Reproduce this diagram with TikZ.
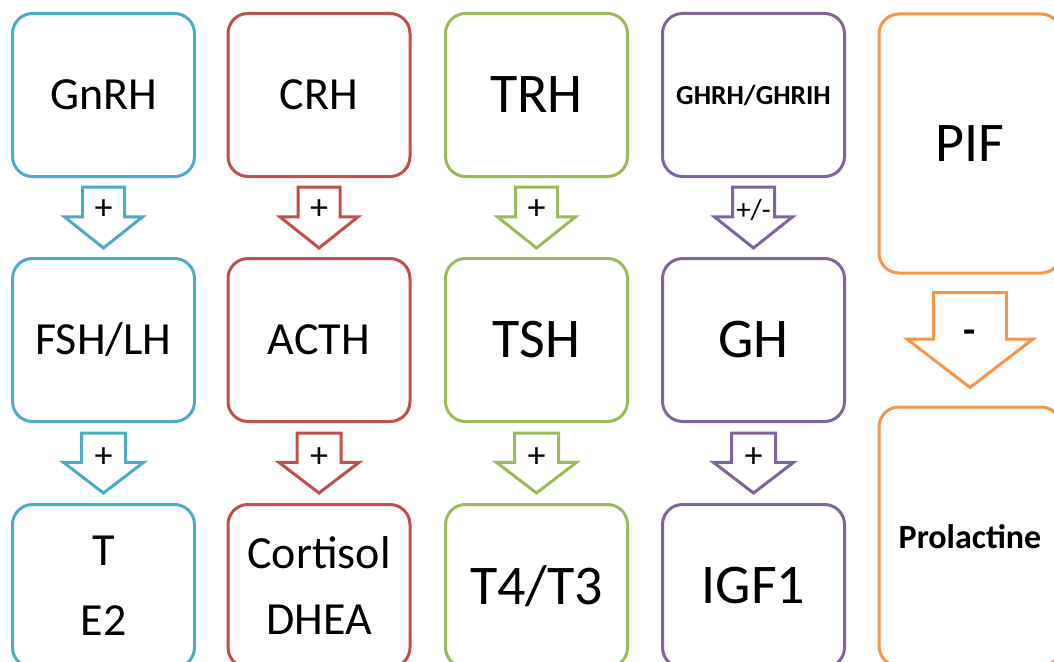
\documentclass[tikz,border=0pt]{standalone}
\usepackage{fontspec}
\setmainfont{Carlito}
\usetikzlibrary{calc}

\definecolor{hblue}{HTML}{4BACC6}
\definecolor{hred}{HTML}{C0504D}
\definecolor{hgreen}{HTML}{9BBB59}
\definecolor{hpurple}{HTML}{8064A2}
\definecolor{horange}{HTML}{F79646}

\tikzset{
  hbox/.style={draw=#1, line width=3pt, rounded corners=20pt, fill=white,
               minimum width=182pt, minimum height=163pt, inner sep=0pt, align=center},
  tallbox/.style={minimum height=259pt},
  medtext/.style={font=\fontsize{46}{70}\selectfont},
  bigtext/.style={font=\fontsize{56}{66}\selectfont},
  arrowline/.style={line width=3pt, fill=white, line join=miter},
  sign/.style={font=\fontsize{36}{40}\selectfont, inner sep=0pt},
}

% block arrow from node #1 to node #2: colour #3, label node #4 with text #5,
% shaft half width #6, head half width #7, gap to the boxes #8, label options #9
\newcommand\hormarrow[9]{%
  \draw[arrowline,draw=#3] let \p1=([yshift=-#8pt]#1.south), \p2=([yshift=#8pt]#2.north),
      \p3=($(\p1)!0.49!(\p2)$), \p4=($(\p1)!0.37!(\p2)$) in
    (\x1-#6pt,\y1) -- (\x1+#6pt,\y1) -- (\x1+#6pt,\y3) -- (\x1+#7pt,\y3) -- (\x2,\y2)
    -- (\x1-#7pt,\y3) -- (\x1-#6pt,\y3) -- cycle
    node[sign,#9] (#4) at (\p4) {#5};
}

\begin{document}
\begin{tikzpicture}[x=1pt,y=-1pt]
\useasboundingbox (0,0) rectangle (1054,661);
\clip (0,0) rectangle (1054,661);

% gonadotropic axis
\node[hbox=hblue, medtext] (gnrh) at (103.5,95) {GnRH};
\node[hbox=hblue, medtext] (fsh)  at (103.5,340) {FSH/LH};
\node[hbox=hblue, medtext] (te2)  at (103.5,586) {T\\E2};

% corticotropic axis
\node[hbox=hred, medtext] (crh)  at (319,95) {CRH};
\node[hbox=hred, medtext] (acth) at (319,340) {ACTH};
\node[hbox=hred, medtext] (cort) at (319,586) {Cortisol\\[-4pt]DHEA};

% thyrotropic axis
\node[hbox=hgreen, bigtext] (trh) at (536.5,95) {TRH};
\node[hbox=hgreen, bigtext] (tsh) at (536.5,340) {TSH};
\node[hbox=hgreen, bigtext] (t4)  at (536.5,586) {T4/T3};

% somatotropic axis
\node[hbox=hpurple, font=\fontsize{27.5}{30}\selectfont\bfseries] (ghrh) at (753.5,95) {GHRH/GHRIH};
\node[hbox=hpurple, bigtext] (gh)  at (753.5,340) {GH};
\node[hbox=hpurple, bigtext] (igf) at (753.5,586) {IGF1};

% lactotropic axis
\node[hbox=horange, tallbox, bigtext] (pif) at (970,143.5) {PIF};
\node[hbox=horange, tallbox, font=\fontsize{34}{40}\selectfont\bfseries] (prl) at (970,536.5) {Prolactine};

% regulation arrows
\hormarrow{gnrh}{fsh}{hblue}{s1}{+}{21}{39}{9}{}
\hormarrow{fsh}{te2}{hblue}{s2}{+}{22}{40}{10}{yshift=-2pt}
\hormarrow{crh}{acth}{hred}{s3}{+}{21}{39}{9}{}
\hormarrow{acth}{cort}{hred}{s4}{+}{22}{40}{10}{yshift=-2pt}
\hormarrow{trh}{tsh}{hgreen}{s5}{+}{21}{39}{9}{}
\hormarrow{tsh}{t4}{hgreen}{s6}{+}{22}{40}{10}{yshift=-2pt}
\hormarrow{ghrh}{gh}{hpurple}{s7}{+/-}{21}{39}{9}{font=\fontsize{29}{30}\selectfont}
\hormarrow{gh}{igf}{hpurple}{s8}{+}{22}{40}{10}{yshift=-2pt}
\hormarrow{pif}{prl}{horange}{s9}{-}{36.5}{63}{18}{font=\fontsize{40}{44}\selectfont\bfseries, yshift=-9pt}
\end{tikzpicture}
\end{document}
